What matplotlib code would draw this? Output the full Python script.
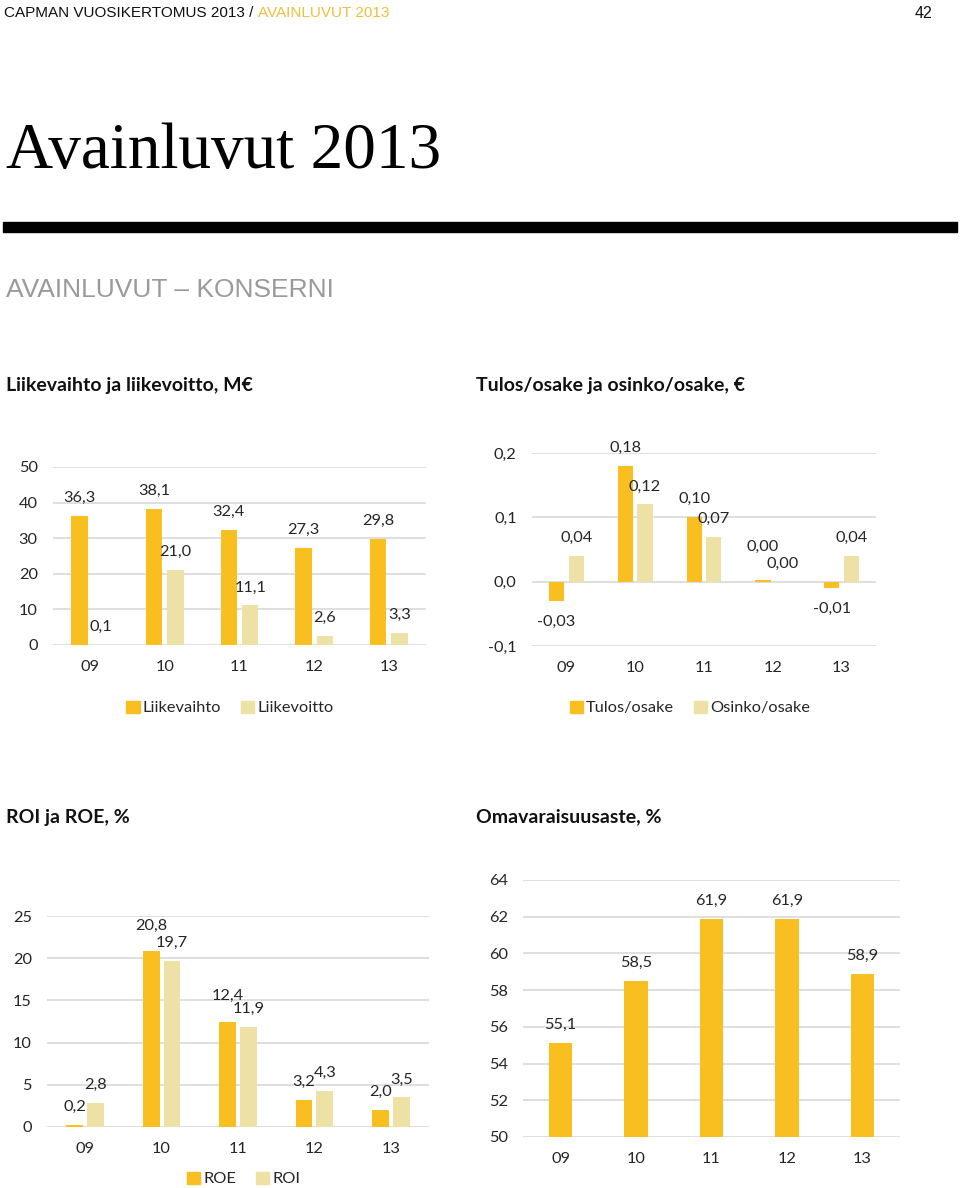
import numpy as np
import matplotlib.pyplot as plt
from matplotlib.patches import Patch, Rectangle

W, H = 960, 1188
GOLD = '#F9BE20'
PALE = '#EEE1A5'
GRID = '#D9D9D9'
TXT = '#262626'
FONT = ['Lato', 'DejaVu Sans']
NARROW = ['Liberation Sans Narrow', 'Liberation Sans', 'DejaVu Sans']

years = ['09', '10', '11', '12', '13']
liikevaihto = [36.3, 38.1, 32.4, 27.3, 29.8]
liikevoitto = [0.1, 21.0, 11.1, 2.6, 3.3]
tulos_osake = [-0.03, 0.18, 0.10, 0.002, -0.01]
osinko_osake = [0.04, 0.12, 0.07, 0.0, 0.04]
tulos_labels = ['-0,03', '0,18', '0,10', '0,00', '-0,01']
osinko_labels = ['0,04', '0,12', '0,07', '0,00', '0,04']
roe = [0.2, 20.8, 12.4, 3.2, 2.0]
roi = [2.8, 19.7, 11.9, 4.3, 3.5]
omavaraisuus = [55.1, 58.5, 61.9, 61.9, 58.9]

plt.rcParams['font.family'] = FONT


def px_axes(fig, left, top, right, bottom):
    return fig.add_axes([left / W, 1 - bottom / H, (right - left) / W, (bottom - top) / H])


def fi(v, d=1):
    return f'{v:.{d}f}'.replace('.', ',')


def style(ax, ylim, yticks, ylabels):
    ax.set_xlim(-0.5, 4.5)
    ax.set_ylim(*ylim)
    ax.set_yticks(yticks)
    ax.set_yticklabels(ylabels)
    ax.set_xticks(range(len(years)))
    ax.set_xticklabels(years)
    for s in ax.spines.values():
        s.set_visible(False)
    ax.tick_params(axis='y', length=0, labelsize=11.8, colors=TXT, pad=11)
    ax.tick_params(axis='x', length=0, labelsize=11.8, colors=TXT, pad=11)
    ax.yaxis.grid(True, color=GRID, lw=1.2)
    ax.set_axisbelow(True)
    ax.patch.set_alpha(0)


def label(ax, x, y, text, dy=18):
    if y < 0:
        dy = -dy - 3
    ax.annotate(text, (x, y), xytext=(0, dy), textcoords='offset pixels',
                ha='center', va='center', fontsize=11.8, color=TXT)


def legend(fig, names, cx, cy):
    handles = [Patch(color=GOLD, label=names[0]), Patch(color=PALE, label=names[1])]
    fig.legend(handles=handles, loc='center', bbox_to_anchor=(cx / W, 1 - cy / H),
               ncol=2, frameon=False, fontsize=11.8, handlelength=0.8, handleheight=0.8,
               handletextpad=0.2, columnspacing=1.2, labelcolor=TXT)


fig = plt.figure(figsize=(W / 100, H / 100), dpi=100)

# page header
t = fig.text(4 / W, 1 - 13 / H, 'CAPMAN VUOSIKERTOMUS 2013 / ', family=NARROW,
             fontsize=11, color='#111111', va='center')
fig.text(932 / W, 1 - 13 / H, '42', family=NARROW, fontsize=11.5, color='#111111',
         va='center', ha='right')
fig.text(6 / W, 1 - 152 / H, 'Avainluvut 2013', family=['Liberation Serif', 'DejaVu Serif'],
         fontsize=47, va='center')
fig.add_artist(Rectangle((3 / W, 1 - 232 / H), 954 / W, 10 / H,
                         transform=fig.transFigure, color='black'))
fig.text(6 / W, 1 - 290 / H, 'AVAINLUVUT – KONSERNI', family=NARROW, fontsize=19,
         color='#9a9a9a', va='center')

titles = [('Liikevaihto ja liikevoitto, M€', 6, 385), ('Tulos/osake ja osinko/osake, €', 476, 385),
          ('ROI ja ROE, %', 6, 817), ('Omavaraisuusaste, %', 476, 817)]
for txt, x, y in titles:
    fig.text(x / W, 1 - y / H, txt, fontsize=14, fontweight='bold', va='center', color='#111111')

x = np.arange(len(years))
off, bw = 0.143, 0.22

# chart 1
ax1 = px_axes(fig, 53, 467, 426, 645)
ax1.bar(x - off, liikevaihto, bw, color=GOLD)
ax1.bar(x + off, liikevoitto, bw, color=PALE)
style(ax1, (0, 50), range(0, 51, 10), [str(v) for v in range(0, 51, 10)])
for i in range(len(years)):
    label(ax1, x[i] - off, liikevaihto[i], fi(liikevaihto[i]))
    label(ax1, x[i] + off, liikevoitto[i], fi(liikevoitto[i]))
legend(fig, ['Liikevaihto', 'Liikevoitto'], 230, 708)

ax1.annotate('AVAINLUVUT 2013', xy=(1, 0), xycoords=t, va='bottom', ha='left',
             family=NARROW, fontsize=11, color='#EBC03C')

# chart 2
ax2 = px_axes(fig, 532, 453, 876, 646)
ax2.bar(x - off, tulos_osake, bw, color=GOLD)
ax2.bar(x + off, osinko_osake, bw, color=PALE)
style(ax2, (-0.1, 0.2), [-0.1, 0.0, 0.1, 0.2], ['-0,1', '0,0', '0,1', '0,2'])
tulos_nudge = {3: 15}
for i in range(len(years)):
    label(ax2, x[i] - off, tulos_osake[i], tulos_labels[i], 18 + tulos_nudge.get(i, 0))
    label(ax2, x[i] + off, osinko_osake[i], osinko_labels[i])
legend(fig, ['Tulos/osake', 'Osinko/osake'], 690, 708)

# chart 3
ax3 = px_axes(fig, 47, 916, 429, 1127)
off3 = 0.137
ax3.bar(x - off3, roe, bw, color=GOLD)
ax3.bar(x + off3, roi, bw, color=PALE)
style(ax3, (0, 25), range(0, 26, 5), [str(v) for v in range(0, 26, 5)])
roe_nudge = {1: 8, 2: 8}
for i in range(len(years)):
    label(ax3, x[i] - off3, roe[i], fi(roe[i]), 18 + roe_nudge.get(i, 0))
    label(ax3, x[i] + off3, roi[i], fi(roi[i]))
legend(fig, ['ROE', 'ROI'], 244, 1179)

# chart 4
ax4 = px_axes(fig, 523, 880, 900, 1137)
ax4.bar(x, omavaraisuus, 0.31, color=GOLD)
style(ax4, (50, 64), range(50, 65, 2), [str(v) for v in range(50, 65, 2)])
for i in range(len(years)):
    label(ax4, x[i], omavaraisuus[i], fi(omavaraisuus[i]))

fig.savefig('out.png', dpi=100)
